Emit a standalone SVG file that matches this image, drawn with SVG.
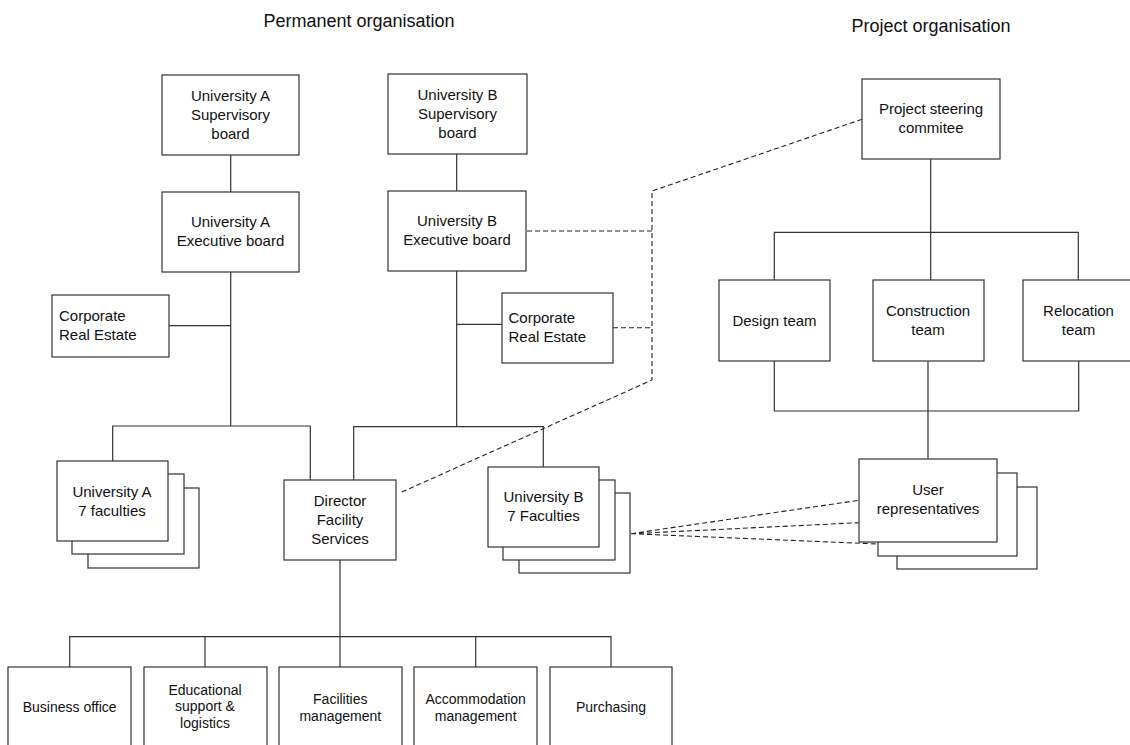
<svg xmlns="http://www.w3.org/2000/svg" width="1130" height="745" viewBox="0 0 1130 745">
<style>
  .box{fill:#fff;stroke:#333;stroke-width:1.2}
  .ln{fill:none;stroke:#333;stroke-width:1.2}
  .dash{fill:none;stroke:#222;stroke-width:1.1;stroke-dasharray:5,3}
  text{font-family:"Liberation Sans",Arial,sans-serif;fill:#111}
  .t{font-size:15px;text-anchor:middle}
  .tl{font-size:15px;text-anchor:start}
  .s{font-size:14px;text-anchor:middle}
  .h{font-size:18px;text-anchor:middle}
</style>
<rect width="1130" height="745" fill="#fff"/>
<text class="h" x="359" y="27">Permanent organisation</text>
<text class="h" x="931" y="32">Project organisation</text>

<g id="connectors">
  <path class="ln" d="M230.7 155V192M230.7 272V426M169.3 325.7H230.7M112.7 461V426H310.3V480"/>
  <path class="ln" d="M456.7 154V191M456.7 271V426.7M456.7 324.3H502M353.7 480V426.7H543.3V466.7"/>
  <path class="ln" d="M340 560V636.7M69.7 667H69.7V636.7H611V667M205 636.7V667M340 636.7V667M475.7 636.7V667"/>
  <path class="ln" d="M930.7 159.3V232.3M774.3 280.3V232.3H1078.3V280.3M930.7 232.3V280.3"/>
  <path class="ln" d="M774.3 361V411H1078.7V361M928 361V458.7"/>
  <path class="dash" d="M862 119.3L652 191V380L399 493.3"/>
  <path class="dash" d="M527 231H652M613 327.7H652"/>
  <path class="dash" d="M631 533.7L858.7 500.3M631 533.7L858.7 522.7M631 533.7L878 544"/>
</g>

<g id="ua-sup"><rect class="box" x="162" y="75" width="137" height="80"/>
  <text class="t" x="230.5" y="101">University A</text><text class="t" x="230.5" y="120">Supervisory</text><text class="t" x="230.5" y="139">board</text></g>
<g id="ua-exec"><rect class="box" x="162" y="192" width="137" height="80"/>
  <text class="t" x="230.5" y="227">University A</text><text class="t" x="230.5" y="245.5">Executive board</text></g>
<g id="ub-sup"><rect class="box" x="388" y="74" width="139" height="80"/>
  <text class="t" x="457.5" y="100">University B</text><text class="t" x="457.5" y="119">Supervisory</text><text class="t" x="457.5" y="138">board</text></g>
<g id="ub-exec"><rect class="box" x="388" y="191" width="138" height="80"/>
  <text class="t" x="457" y="226">University B</text><text class="t" x="457" y="244.5">Executive board</text></g>
<g id="corp-a"><rect class="box" x="52" y="295" width="117" height="62"/>
  <text class="tl" x="59" y="320.5">Corporate</text><text class="tl" x="59" y="339.5">Real Estate</text></g>
<g id="corp-b"><rect class="box" x="502" y="293" width="111" height="70"/>
  <text class="tl" x="508.5" y="322.5">Corporate</text><text class="tl" x="508.5" y="341.5">Real Estate</text></g>
<g id="ua-fac">
  <rect class="box" x="88" y="488" width="111" height="80"/>
  <rect class="box" x="72" y="474" width="112" height="80"/>
  <rect class="box" x="57" y="461" width="111" height="80"/>
  <text class="t" x="112" y="496.5">University A</text><text class="t" x="112" y="515.5">7 faculties</text></g>
<g id="director"><rect class="box" x="284" y="480" width="112" height="80"/>
  <text class="t" x="340" y="506">Director</text><text class="t" x="340" y="525">Facility</text><text class="t" x="340" y="543.5">Services</text></g>
<g id="ub-fac">
  <rect class="box" x="519" y="493" width="111" height="80"/>
  <rect class="box" x="503" y="480" width="112" height="80"/>
  <rect class="box" x="488" y="467" width="111" height="80"/>
  <text class="t" x="543.5" y="501.5">University B</text><text class="t" x="543.5" y="520.5">7 Faculties</text></g>
<g id="steering"><rect class="box" x="862" y="79" width="138" height="80"/>
  <text class="t" x="931" y="114">Project steering</text><text class="t" x="931" y="132.5">commitee</text></g>
<g id="design"><rect class="box" x="719" y="280" width="111" height="81"/>
  <text class="t" x="774.5" y="325.5">Design team</text></g>
<g id="construction"><rect class="box" x="873" y="280" width="111" height="81"/>
  <text class="t" x="928" y="315.5">Construction</text><text class="t" x="928" y="334.5">team</text></g>
<g id="relocation"><rect class="box" x="1023" y="280" width="111" height="81"/>
  <text class="t" x="1078.5" y="315.5">Relocation</text><text class="t" x="1078.5" y="334.5">team</text></g>
<g id="user-rep">
  <rect class="box" x="897" y="487" width="140" height="82"/>
  <rect class="box" x="878" y="473" width="139" height="83"/>
  <rect class="box" x="859" y="459" width="138" height="83"/>
  <text class="t" x="928" y="495">User</text><text class="t" x="928" y="514">representatives</text></g>
<g id="business"><rect class="box" x="8" y="667" width="123" height="90"/>
  <text class="s" x="69.7" y="711.5">Business office</text></g>
<g id="educational"><rect class="box" x="144" y="667" width="123" height="90"/>
  <text class="s" x="205" y="694.5">Educational</text><text class="s" x="205" y="711">support &amp;</text><text class="s" x="205" y="728">logistics</text></g>
<g id="facilities"><rect class="box" x="279" y="667" width="123" height="90"/>
  <text class="s" x="340.3" y="703.5">Facilities</text><text class="s" x="340.3" y="720.5">management</text></g>
<g id="accommodation"><rect class="box" x="414" y="667" width="123" height="90"/>
  <text class="s" x="475.7" y="703.5">Accommodation</text><text class="s" x="475.7" y="720.5">management</text></g>
<g id="purchasing"><rect class="box" x="550" y="667" width="122" height="90"/>
  <text class="s" x="611" y="711.5">Purchasing</text></g>
</svg>
